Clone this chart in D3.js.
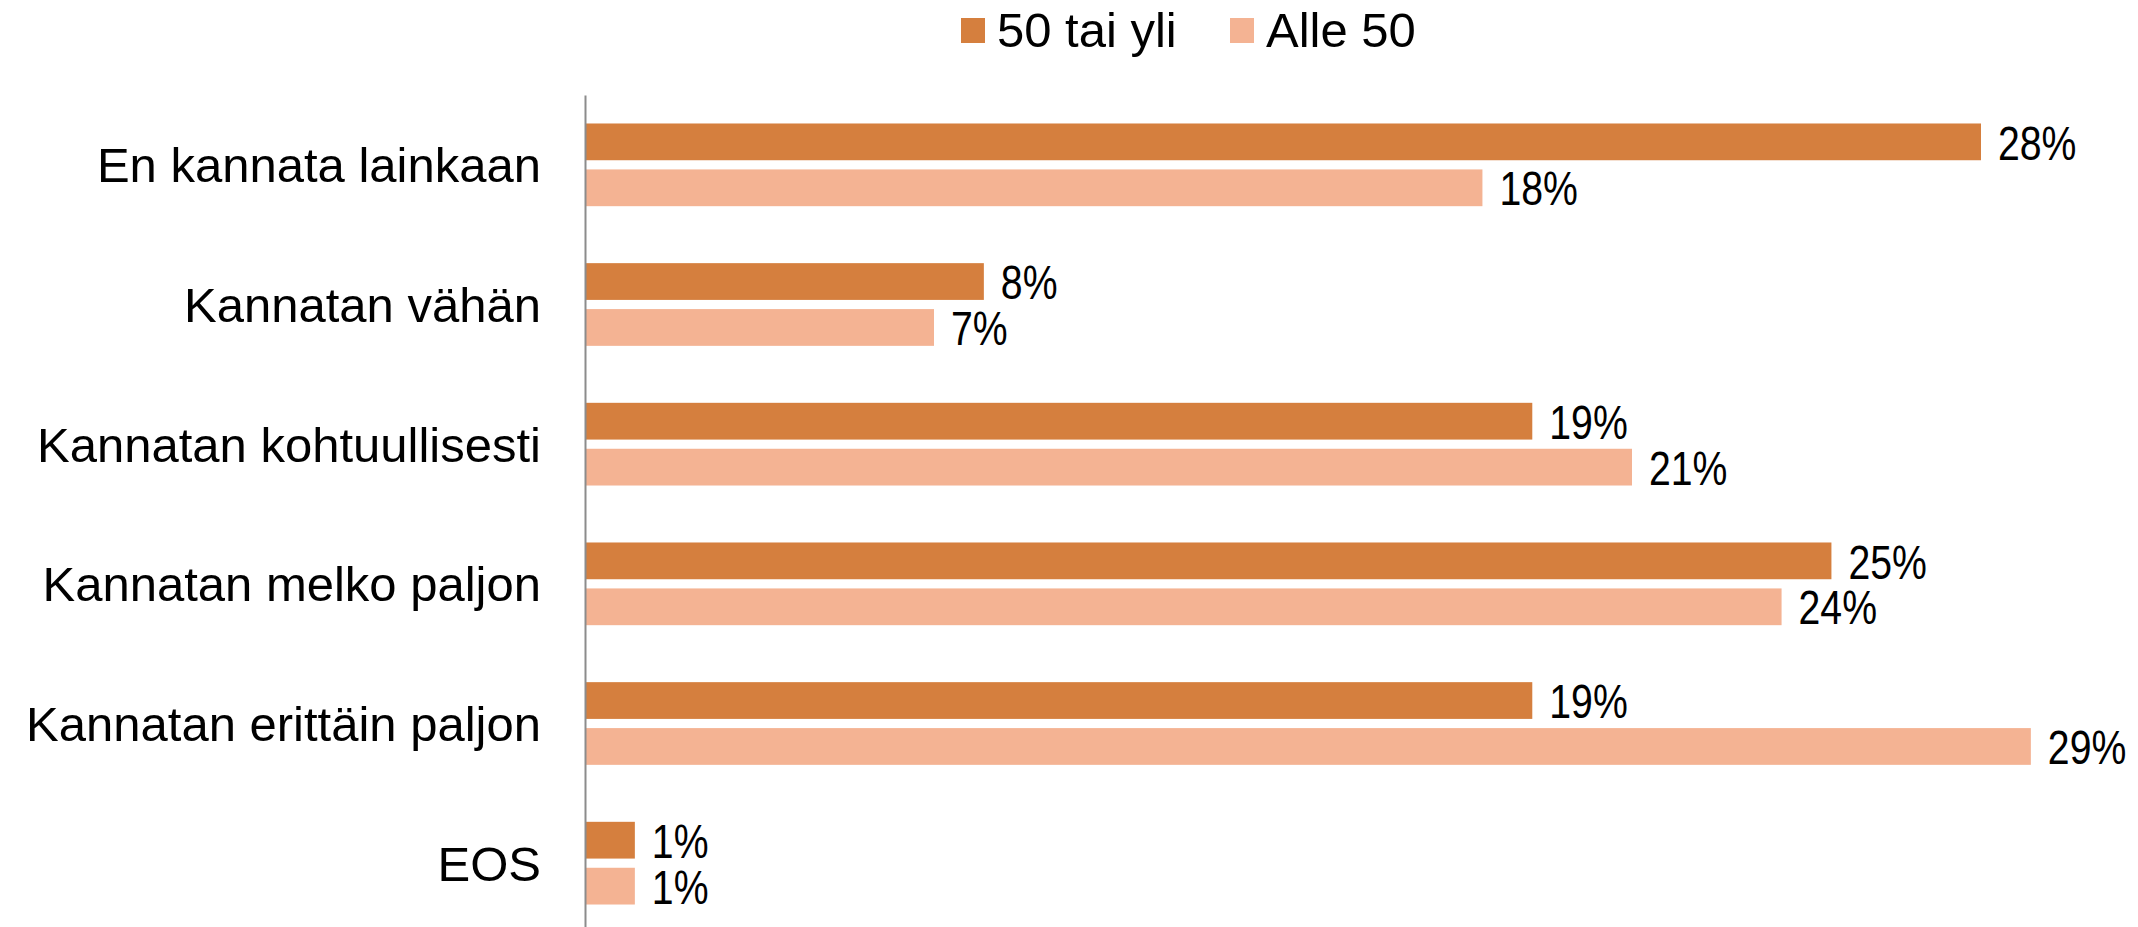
<!DOCTYPE html>
<html>
<head>
<meta charset="utf-8">
<script src="https://cdn.jsdelivr.net/npm/d3@7"></script>
<style>
    body { margin: 0; background: #fff; }
    text { font-family: "Liberation Sans", Arial, sans-serif; fill: #000; }
</style>
</head>
<body>
<svg id="chart" width="2138" height="927"></svg>
<script>
const categories = ["En kannata lainkaan", "Kannatan vähän", "Kannatan kohtuullisesti",
    "Kannatan melko paljon", "Kannatan erittäin paljon", "EOS"];
const seriesNames = ["50 tai yli", "Alle 50"];
const over50 = [28, 8, 19, 25, 19, 1];
const under50 = [18, 7, 21, 24, 29, 1];
const colors = ["#d57f3e", "#f4b393"];

drawChart();

function drawChart() {
    const svg = d3.select("#chart");
    const fontSize = 49;

    const x = d3.scaleLinear().domain([0, 28]).range([585, 1981]);
    const y = d3.scaleBand().domain(categories).range([95, 933]);
    const ySub = d3.scaleBand().domain(seriesNames)
        .range([0, y.bandwidth()])
        .paddingInner(0.2)
        .paddingOuter(0.62);

    const rows = categories.map((c, i) => ({
        category: c,
        values: [
            {series: seriesNames[0], value: over50[i]},
            {series: seriesNames[1], value: under50[i]}
        ]
    }));

    const groups = svg.selectAll("g.row")
        .data(rows)
        .enter().append("g")
        .attr("class", "row")
        .attr("transform", d => `translate(0,${y(d.category)})`);

    groups.selectAll("rect")
        .data(d => d.values)
        .enter().append("rect")
        .attr("x", x(0))
        .attr("y", d => ySub(d.series))
        .attr("width", d => x(d.value) - x(0))
        .attr("height", ySub.bandwidth())
        .attr("fill", (d, i) => colors[i]);

    // value labels next to the bars, squeezed a bit like the narrow digits of the original
    groups.selectAll("text.value")
        .data(d => d.values)
        .enter().append("text")
        .attr("class", "value")
        .attr("x", d => x(d.value) + 17)
        .attr("y", d => ySub(d.series) + ySub.bandwidth() / 2)
        .attr("dy", "0.36em")
        .style("font-size", fontSize + "px")
        .text(d => d.value + "%")
        .each(function() {
            const w = this.getComputedTextLength();
            d3.select(this)
                .attr("textLength", w * 0.8)
                .attr("lengthAdjust", "spacingAndGlyphs");
        });

    // category axis on the left, no ticks
    const yAxis = d3.axisLeft(y).tickSize(0).tickPadding(44);
    const axisG = svg.append("g")
        .attr("transform", `translate(${x(0)},0)`)
        .call(yAxis);
    axisG.select(".domain")
        .attr("stroke", "#8c8c8c")
        .attr("stroke-width", 2);
    axisG.selectAll("text")
        .style("font-size", fontSize + "px")
        .style("font-family", "\"Liberation Sans\", Arial, sans-serif")
        .attr("fill", "#000")
        .attr("dy", "0.36em");

    // legend
    const legendX = [961, 1230];
    const legend = svg.selectAll("g.legend")
        .data(seriesNames)
        .enter().append("g")
        .attr("class", "legend")
        .attr("transform", (d, i) => `translate(${legendX[i]},0)`);
    legend.append("rect")
        .attr("x", 0)
        .attr("y", 18)
        .attr("width", 24)
        .attr("height", 25)
        .attr("fill", (d, i) => colors[i]);
    legend.append("text")
        .attr("x", 36)
        .attr("y", 47)
        .style("font-size", fontSize + "px")
        .text(d => d);
}
</script>
</body>
</html>
